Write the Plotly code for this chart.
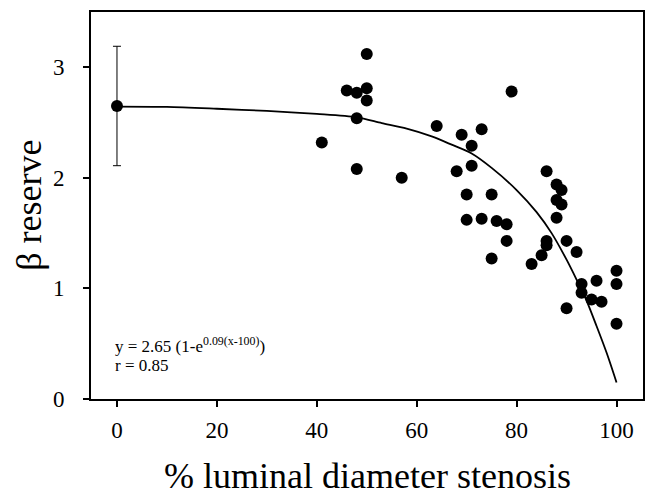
import plotly.graph_objects as go

# normal group mean with SD
normal_x = [0]
normal_y = [2.65]
normal_sd = [0.54]

# stenosis data points
stenosis_x = [41, 46, 48, 48, 48, 50, 50, 50, 57, 64, 68, 69, 70, 70, 71, 71, 73, 73,
              75, 75, 76, 78, 78, 79, 83, 85, 86, 86, 86, 88, 88, 88, 89, 89, 90, 90,
              92, 93, 93, 95, 96, 97, 100, 100, 100]
stenosis_y = [2.32, 2.79, 2.77, 2.54, 2.08, 3.12, 2.81, 2.70, 2.00, 2.47, 2.06, 2.39,
              1.85, 1.62, 2.29, 2.11, 2.44, 1.63, 1.85, 1.27, 1.61, 1.58, 1.43, 2.78,
              1.22, 1.30, 2.06, 1.43, 1.39, 1.94, 1.80, 1.64, 1.89, 1.76, 1.43, 0.82,
              1.33, 1.04, 0.96, 0.90, 1.07, 0.88, 1.16, 1.04, 0.68]

# fitted curve
fit_x = [0, 10, 20, 30, 40, 48, 53, 58, 63, 67, 71, 75, 80, 84, 87, 90, 92, 94, 96, 98, 100]
fit_y = [2.645, 2.642, 2.625, 2.605, 2.578, 2.547, 2.495, 2.445, 2.375, 2.30, 2.22, 2.09,
         1.89, 1.69, 1.50, 1.26, 1.08, 0.89, 0.66, 0.42, 0.15]

x_ticks = [0, 20, 40, 60, 80, 100]
y_ticks = [0, 1, 2, 3]

FONT = "Liberation Serif, Times New Roman, serif"

fig = go.Figure()
fig.add_trace(go.Scatter(x=fit_x, y=fit_y, mode="lines",
                         line=dict(color="black", width=1.8, shape="spline", smoothing=0.8),
                         hoverinfo="skip"))
fig.add_trace(go.Scatter(x=stenosis_x, y=stenosis_y, mode="markers",
                         marker=dict(color="black", size=12)))
fig.add_trace(go.Scatter(x=normal_x, y=normal_y, mode="markers",
                         marker=dict(color="black", size=12),
                         error_y=dict(type="data", array=normal_sd, visible=True,
                                      color="black", thickness=1, width=4)))

fig.update_layout(
    width=650, height=492,
    margin=dict(l=91, r=7, t=12, b=93),
    paper_bgcolor="white", plot_bgcolor="white",
    showlegend=False,
    font=dict(family=FONT, color="black"),
    xaxis=dict(range=[-5.2, 105.3], tickvals=x_ticks, ticks="outside", ticklen=6,
               tickwidth=1.5, tickcolor="black", showgrid=False, zeroline=False,
               showline=True, linecolor="black", linewidth=1.8, mirror=True,
               tickfont=dict(size=23, family=FONT), ticklabelstandoff=3,
               automargin=False),
    yaxis=dict(range=[0, 3.5], tickvals=y_ticks, ticks="outside", ticklen=6,
               tickwidth=1.5, tickcolor="black", showgrid=False, zeroline=False,
               showline=True, linecolor="black", linewidth=1.8, mirror=True,
               tickfont=dict(size=23, family=FONT), ticklabelstandoff=14,
               automargin=False),
    annotations=[
        dict(text="% luminal diameter stenosis", xref="paper", yref="paper",
             x=0.5, y=-0.198, xanchor="center", yanchor="middle", showarrow=False,
             font=dict(size=36, family=FONT)),
        dict(text="β reserve", xref="paper", yref="paper", textangle=-90,
             x=-0.1135, y=0.5, xanchor="center", yanchor="middle", showarrow=False,
             font=dict(size=36, family=FONT)),
        dict(text="y = 2.65 (1-e<sup>0.09(x-100)</sup>)", xref="x", yref="y",
             x=-0.74, y=0.368, xanchor="left", yanchor="bottom", showarrow=False,
             font=dict(size=17, family=FONT)),
        dict(text="r = 0.85", xref="x", yref="y",
             x=-0.74, y=0.196, xanchor="left", yanchor="bottom", showarrow=False,
             font=dict(size=17, family=FONT)),
    ],
)

fig.write_html("out.html", config={"displayModeBar": False},
               post_script="document.body.style.margin='0';")
